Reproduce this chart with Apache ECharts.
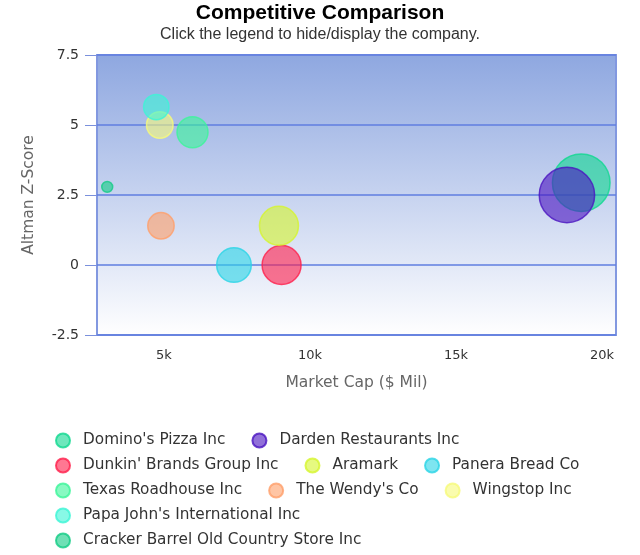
<!DOCTYPE html>
<html>
<head>
<meta charset="utf-8">
<script src="https://cdn.jsdelivr.net/npm/echarts@6/dist/echarts.min.js"></script>
<style>
  html, body { margin: 0; padding: 0; background: #fff; }
  #main { width: 640px; height: 555px; }
</style>
</head>
<body>
<div id="main"></div>
<script>
// company data
var companies = ["Domino's Pizza Inc", 'Darden Restaurants Inc', "Dunkin' Brands Group Inc", 'Aramark',
  'Panera Bread Co', 'Texas Roadhouse Inc', "The Wendy's Co", 'Wingstop Inc',
  "Papa John's International Inc", 'Cracker Barrel Old Country Store Inc'];
var marketCap = [19290, 18800, 9030, 8940, 7400, 5980, 4900, 4860, 4740, 3060];
var zScore = [2.94, 2.5, 0, 1.4, 0, 4.74, 1.4, 5.0, 5.64, 2.79];
var bubbleValue = [100, 92.5, 45.8, 45.8, 36.1, 29, 21, 21.3, 19.4, 3.6];
var xTicks = [5000, 10000, 15000, 20000];

var colors = ['#10d890', '#4a14c0', '#ff1f4b', '#d6f52e', '#2ad4e6', '#3cf59a', '#ff9f6a', '#f6fa7a', '#3cf5d6', '#12cc85'];

function fade(hex, a) {
  var n = parseInt(hex.slice(1), 16);
  return 'rgba(' + (n >> 16) + ',' + ((n >> 8) & 255) + ',' + (n & 255) + ',' + a + ')';
}

var chart = echarts.init(document.getElementById('main'));

var series = companies.map(function (name, i) {
  return {
    name: name,
    type: 'scatter',
    data: [[marketCap[i], zScore[i], bubbleValue[i]]],
    symbolSize: function (d) {
      return 2 * 28.8 * Math.sqrt(d[2] / 100);
    },
    itemStyle: {
      color: fade(colors[i], 0.76),
      borderColor: colors[i],
      borderWidth: 1.5
    }
  };
});

var option = {
  animation: false,
  title: {
    text: 'Competitive Comparison',
    subtext: 'Click the legend to hide/display the company.',
    left: 'center',
    top: -2,
    itemGap: 3,
    textStyle: { fontFamily: 'Liberation Sans', fontWeight: 'bold', fontSize: 21, color: '#000' },
    subtextStyle: { fontFamily: 'Liberation Sans', fontSize: 16, color: '#333' }
  },
  legend: {
    left: 50,
    top: 427,
    width: 560,
    itemGap: 8,
    itemWidth: 14,
    itemHeight: 14,
    icon: 'circle',
    textStyle: {
      fontFamily: 'DejaVu Sans',
      fontSize: 15.3,
      color: '#333',
      lineHeight: 17,
      padding: [0, 18, 0, 8]
    },
    data: companies
  },
  grid: {
    left: 97,
    top: 55,
    right: 24,
    bottom: 220,
    show: true,
    borderColor: '#8298e0',
    borderWidth: 2,
    backgroundColor: new echarts.graphic.LinearGradient(0, 0, 0, 1, [
      { offset: 0, color: '#8ea7e0' },
      { offset: 1, color: '#ffffff' }
    ])
  },
  xAxis: {
    type: 'value',
    min: 2710,
    max: 20480,
    name: 'Market Cap ($ Mil)',
    nameLocation: 'middle',
    nameGap: 40,
    nameTextStyle: { fontFamily: 'DejaVu Sans', fontSize: 15.5, color: '#666' },
    axisLine: { show: false },
    axisTick: { show: false },
    splitLine: { show: false },
    axisLabel: {
      customValues: xTicks,
      fontFamily: 'DejaVu Sans',
      fontSize: 13,
      color: '#333',
      margin: 14,
      formatter: function (v) { return (v / 1000) + 'k'; }
    }
  },
  yAxis: {
    type: 'value',
    min: -2.5,
    max: 7.5,
    interval: 2.5,
    name: 'Altman Z-Score',
    nameLocation: 'middle',
    nameGap: 60,
    nameTextStyle: { fontFamily: 'DejaVu Sans', fontSize: 15.5, color: '#666' },
    axisLine: { show: false },
    axisTick: { show: true, length: 12, lineStyle: { color: '#7a90dc' } },
    splitLine: { show: true, lineStyle: { color: '#5f7ee0', width: 1.5 } },
    axisLabel: {
      fontFamily: 'DejaVu Sans',
      fontSize: 14,
      color: '#333',
      margin: 18
    }
  },
  series: series
};

chart.setOption(option);
</script>
</body>
</html>
